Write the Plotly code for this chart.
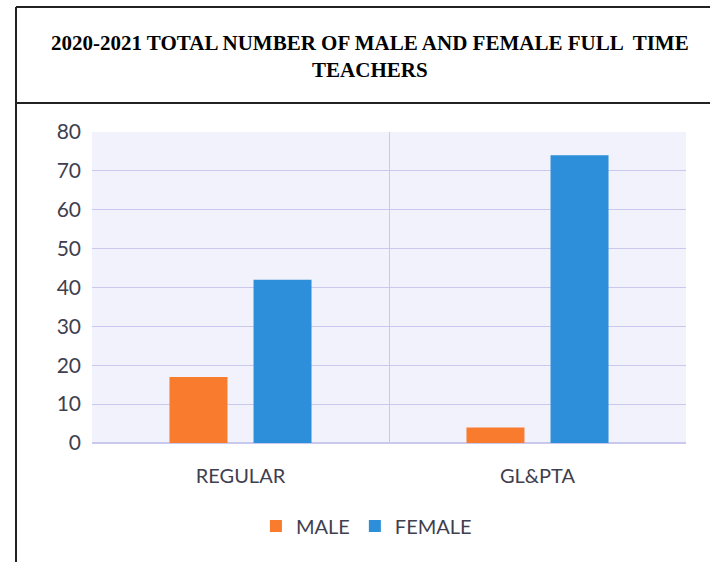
import plotly.graph_objects as go

categories = ["REGULAR", "GL&PTA"]
male = [17, 4]
female = [42, 74]
y_ticks = [0, 10, 20, 30, 40, 50, 60, 70, 80]
title_text = "2020-2021 TOTAL NUMBER OF MALE AND FEMALE FULL  TIME<br>TEACHERS"

text_color = "#3f3f4f"
font_family = "Lato, Open Sans, sans-serif"

fig = go.Figure()
fig.add_trace(go.Bar(name="MALE", x=categories, y=male, marker_color="#F97C2E",
                     marker_line_width=0))
fig.add_trace(go.Bar(name="FEMALE", x=categories, y=female, marker_color="#2D8FDA",
                     marker_line_width=0))

L, R, T, B = 92, 24, 132, 119
W, H = 710, 562
pw = W - L - R
ph = H - T - B

def px(x):
    return (x - L) / pw

def py(y):
    return (H - B - y) / ph

shapes = [
    dict(type="line", xref="paper", yref="paper", x0=px(16), x1=px(16), y0=py(7), y1=py(600),
         line=dict(color="#222222", width=2)),
    dict(type="line", xref="paper", yref="paper", x0=px(16), x1=px(720), y0=py(7), y1=py(7),
         line=dict(color="#222222", width=2)),
    dict(type="line", xref="paper", yref="paper", x0=px(16), x1=px(720), y0=py(103), y1=py(103),
         line=dict(color="#222222", width=2)),
]

fig.update_layout(
    width=W, height=H,
    margin=dict(l=L, r=R, t=T, b=B),
    paper_bgcolor="white",
    plot_bgcolor="#f1f2fb",
    barmode="group",
    bargap=0.434,
    bargroupgap=0.31,
    showlegend=True,
    legend=dict(orientation="h", x=0.462, xanchor="center", y=py(526), yanchor="middle",
                font=dict(family=font_family, size=20, color=text_color),
                itemwidth=30, traceorder="normal"),
    shapes=shapes,
    annotations=[dict(text="<b>" + title_text + "</b>", xref="paper", yref="paper",
                      x=px(370), y=py(57), xanchor="center", yanchor="middle",
                      showarrow=False,
                      font=dict(family="Liberation Serif, Times New Roman, serif", size=21,
                                color="#000000"))],
)

fig.update_xaxes(
    showgrid=True, gridcolor="#c9c9ee", gridwidth=1, tickson="boundaries",
    showline=False, ticks="", zeroline=False,
    tickfont=dict(family=font_family, size=20, color=text_color),
    ticklabelstandoff=19,
)
fig.update_yaxes(
    range=[0, 80], tickvals=y_ticks, showgrid=True, gridcolor="#c9c9ee", gridwidth=1,
    zeroline=True, zerolinecolor="#c9c9ee", showline=False, ticks="",
    tickfont=dict(family=font_family, size=21, color=text_color),
    ticklabelstandoff=10,
)

fig.write_html("out.html", config={"displayModeBar": False},
               post_script="document.body.style.margin='0';")
